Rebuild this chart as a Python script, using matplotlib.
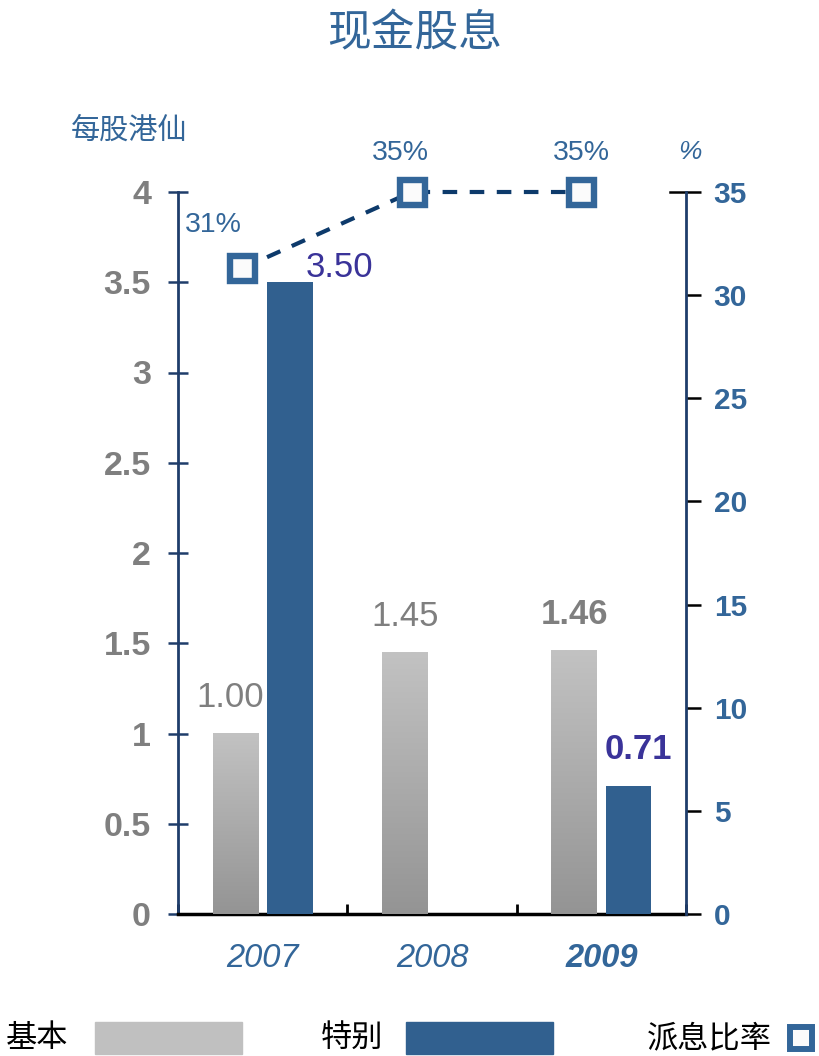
import numpy as np
import matplotlib
matplotlib.use('Agg')
import matplotlib.pyplot as plt
from matplotlib.patches import Rectangle
from matplotlib.lines import Line2D
from matplotlib.colors import LinearSegmentedColormap

# data
years = ['2007', '2008', '2009']
basic = [1.00, 1.45, 1.46]
special = [3.50, 0, 0.71]
payout = [31.3, 35, 35]
left_ticks = [0, 0.5, 1, 1.5, 2, 2.5, 3, 3.5, 4]
right_ticks = [0, 5, 10, 15, 20, 25, 30, 35]

W, H = 819, 1056
BLUE = '#31608f'
TXT_BLUE = '#336699'
NAVY = '#1f3d6b'
GRAY_TXT = '#7f7f7f'
PURPLE = '#3a3399'
cjk = ['Noto Sans CJK SC', 'DejaVu Sans']

plt.rcParams['font.family'] = ['Liberation Sans', 'Noto Sans CJK SC', 'DejaVu Sans']


def fx(px):
    return px / W


def fy(py):
    return 1 - py / H


fig = plt.figure(figsize=(W / 100, H / 100), dpi=100)
ax = fig.add_axes([fx(178), fy(914), 508 / W, 722 / H])

x = np.arange(len(years))
bw = 0.27
off = 0.16

# basic bars with a vertical gradient
b1 = ax.bar(x - off, basic, bw, color='#c0c0c0', zorder=2)
grad = np.linspace(0, 1, 256).reshape(-1, 1)
gcmap = LinearSegmentedColormap.from_list('g', ['#949494', '#c2c2c2'])
for r in b1:
    x0, y0, w, h = r.get_x(), r.get_y(), r.get_width(), r.get_height()
    ax.imshow(grad, extent=[x0, x0 + w, y0, y0 + h], origin='lower',
              cmap=gcmap, aspect='auto', zorder=3)

b2 = ax.bar(x + off, special, bw, color=BLUE, zorder=3)

ax.set_xlim(-0.5, 2.5)
ax.set_ylim(0, 4)

# bar labels
for i, r in enumerate(b1):
    last = i == len(years) - 1
    ax.annotate(f'{basic[i]:.2f}', (r.get_x() + r.get_width() / 2, basic[i]),
                xytext=(-4 if i == 0 else 0, 19), textcoords='offset points',
                ha='center', va='baseline', fontsize=25, color=GRAY_TXT,
                fontweight='bold' if last else 'normal')
for i, r in enumerate(b2):
    v = special[i]
    if v == 0:
        continue
    last = i == len(years) - 1
    if v > 3:
        ax.annotate(f'{v:.2f}', (r.get_x() + r.get_width(), v), xytext=(-5, 4),
                    textcoords='offset points', ha='left', va='baseline',
                    fontsize=25, color=PURPLE, zorder=6)
    else:
        ax.annotate(f'{v:.2f}', (r.get_x() + r.get_width() / 2, v), xytext=(7, 19),
                    textcoords='offset points', ha='center', va='baseline',
                    fontsize=25, color=PURPLE, fontweight='bold' if last else 'normal')

# axes styling
ax.spines['top'].set_visible(False)
ax.spines['right'].set_visible(False)
ax.spines['left'].set_color(NAVY)
ax.spines['left'].set_linewidth(2)
ax.spines['bottom'].set_color('black')
ax.spines['bottom'].set_linewidth(2.5)

ax.set_yticks(left_ticks)
ax.set_yticklabels([f'{t:g}' for t in left_ticks])
ax.tick_params(axis='y', direction='inout', length=15, width=1.8, color=NAVY,
               pad=12, labelsize=24.5, labelcolor=GRAY_TXT)
for lbl in ax.get_yticklabels():
    lbl.set_fontweight('bold')

ax.set_xticks(x)
ax.set_xticklabels(years)
ax.set_xticks([-0.5, 0.5, 1.5, 2.5], minor=True)
ax.tick_params(axis='x', which='major', length=0, pad=21, labelsize=23.5, labelcolor=TXT_BLUE)
ax.tick_params(axis='x', which='minor', direction='in', length=7, width=2, color='black')
for i, lbl in enumerate(ax.get_xticklabels()):
    lbl.set_fontstyle('italic')
    if i == len(years) - 1:
        lbl.set_fontweight('bold')

# payout ratio on right axis
ax2 = ax.twinx()
ax2.set_ylim(0, 35)
ax2.set_yticks(right_ticks)
for s in ['top', 'left', 'bottom']:
    ax2.spines[s].set_visible(False)
ax2.spines['right'].set_color(NAVY)
ax2.spines['right'].set_linewidth(2)
ax2.tick_params(axis='y', direction='out', length=11, width=1.8, color='black',
                pad=9, labelsize=21.5, labelcolor=TXT_BLUE)
for lbl in ax2.get_yticklabels():
    lbl.set_fontweight('bold')
ax2.plot([0.968, 1.0], [35, 35], transform=ax2.get_yaxis_transform(),
         color='black', lw=1.8, clip_on=False)

xm = x - 0.12
ax2.plot(xm, payout, ls=(0, (3.5, 3)), color='#0d3a6b', lw=3, marker='s', ms=18,
         mew=4.6, mfc='#fbfbfb', mec=TXT_BLUE, clip_on=False, zorder=5)
pct_offsets = [(-21, 31), (-8, 28), (0, 28)]
for i, v in enumerate(payout):
    ax2.annotate(f'{v:.0f}%', (xm[i], v), xytext=pct_offsets[i], textcoords='offset points',
                 ha='center', va='center', fontsize=20.5, color=TXT_BLUE)

# titles and axis captions
fig.text(fx(415), fy(33), '现金股息', ha='center', va='center', fontsize=31.5,
         color=TXT_BLUE, family=cjk, style='italic')
fig.text(fx(71), fy(131), '每股港仙', ha='left', va='center', fontsize=21,
         color=TXT_BLUE, family=cjk, style='italic')
fig.text(fx(690), fy(152), '%', ha='center', va='center', fontsize=19,
         color=TXT_BLUE, style='italic')

# legend drawn by hand
fig.text(fx(6), fy(1038), '基本', ha='left', va='center', fontsize=22.5, family=cjk, color='black')
fig.add_artist(Rectangle((fx(95), fy(1054)), 147 / W, 32 / H, transform=fig.transFigure,
                         color='#c0c0c0'))
fig.text(fx(321), fy(1038), '特别', ha='left', va='center', fontsize=22.5, family=cjk, color='black')
fig.add_artist(Rectangle((fx(406), fy(1054)), 147 / W, 32 / H, transform=fig.transFigure,
                         color=BLUE))
fig.text(fx(647), fy(1038), '派息比率', ha='left', va='center', fontsize=22.5, family=cjk, color='black')
fig.add_artist(Line2D([fx(801)], [fy(1038)], marker='s', ms=15.5, mew=4.3, mfc='#fbfbfb',
                      mec=TXT_BLUE, transform=fig.transFigure))

plt.savefig('out.png', dpi=100)
